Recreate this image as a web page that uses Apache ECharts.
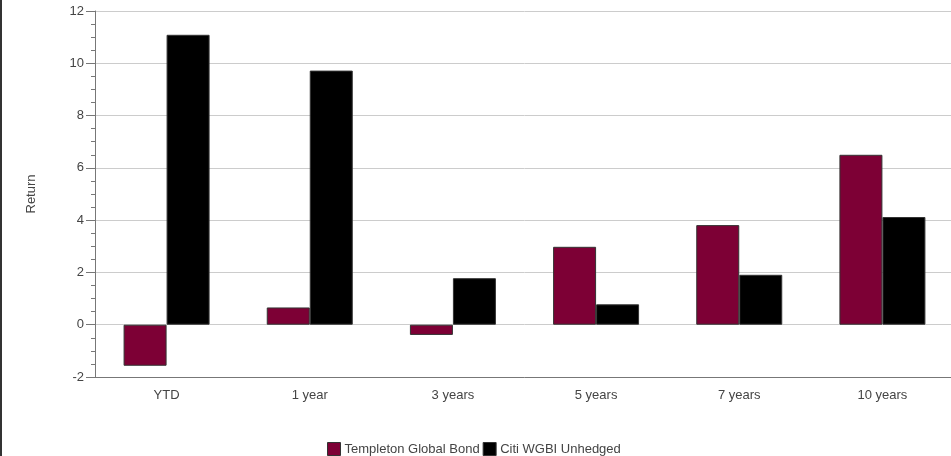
<!DOCTYPE html>
<html>
<head>
<meta charset="utf-8">
<script src="https://cdn.jsdelivr.net/npm/echarts@6/dist/echarts.min.js"></script>
<style>
  html, body { margin: 0; padding: 0; background: #fff; overflow: hidden; }
  #chart { width: 954px; height: 456px; }
</style>
</head>
<body>
<div id="chart"></div>
<script>
// Annualised returns by period
const categories = ['YTD', '1 year', '3 years', '5 years', '7 years', '10 years'];
const templetonGlobalBond = [-1.57, 0.66, -0.39, 2.98, 3.81, 6.50];
const citiWGBIUnhedged = [11.09, 9.72, 1.78, 0.78, 1.91, 4.12];
const yTicks = { min: -2, max: 12, interval: 2 };

const FONT = '"Liberation Sans", Arial, sans-serif';
const TEXT = '#444';

const chart = echarts.init(document.getElementById('chart'), null, { renderer: 'canvas' });

chart.setOption({
  animation: false,
  textStyle: { fontFamily: FONT },
  graphic: [{
    type: 'line',
    shape: { x1: 1, y1: 0, x2: 1, y2: 456 },
    style: { stroke: '#333', lineWidth: 2 }
  }],
  grid: { left: 95, right: 0, top: 11, bottom: 79, containLabel: false },
  legend: {
    bottom: -5,
    left: 322,
    itemWidth: 13,
    itemHeight: 13,
    itemGap: 3,
    icon: 'rect',
    itemStyle: { borderColor: '#333', borderWidth: 1 },
    textStyle: { color: TEXT, fontSize: 13, fontFamily: FONT, padding: [0, 0, 0, -1] },
    data: ['Templeton Global Bond', 'Citi WGBI Unhedged']
  },
  xAxis: {
    type: 'category',
    data: categories,
    axisLine: { onZero: false, lineStyle: { color: '#777', width: 1 } },
    axisTick: { alignWithLabel: true, length: 7, lineStyle: { color: '#777' } },
    axisLabel: { color: TEXT, fontSize: 13, margin: 12, fontFamily: FONT },
    splitLine: { show: false }
  },
  yAxis: {
    type: 'value',
    min: yTicks.min,
    max: yTicks.max,
    interval: yTicks.interval,
    name: 'Return',
    nameLocation: 'middle',
    nameGap: 57,
    nameRotate: 90,
    nameTextStyle: { color: TEXT, fontSize: 13, fontFamily: FONT },
    axisLine: { show: true, lineStyle: { color: '#777', width: 1 } },
    axisTick: { show: true, length: 9, lineStyle: { color: '#777' } },
    minorTick: { show: true, splitNumber: 4, length: 4, lineStyle: { color: '#777' } },
    axisLabel: { color: TEXT, fontSize: 13, margin: 11, fontFamily: FONT },
    splitLine: { show: true, lineStyle: { color: '#ccc', width: 1 } }
  },
  series: [
    {
      name: 'Templeton Global Bond',
      type: 'bar',
      data: templetonGlobalBond,
      barWidth: 43,
      barGap: '0%',
      itemStyle: { color: '#7d0035', borderColor: '#333', borderWidth: 1 }
    },
    {
      name: 'Citi WGBI Unhedged',
      type: 'bar',
      data: citiWGBIUnhedged,
      barWidth: 43,
      barGap: '0%',
      itemStyle: { color: '#000000', borderColor: '#333', borderWidth: 1 }
    }
  ]
});
</script>
</body>
</html>
